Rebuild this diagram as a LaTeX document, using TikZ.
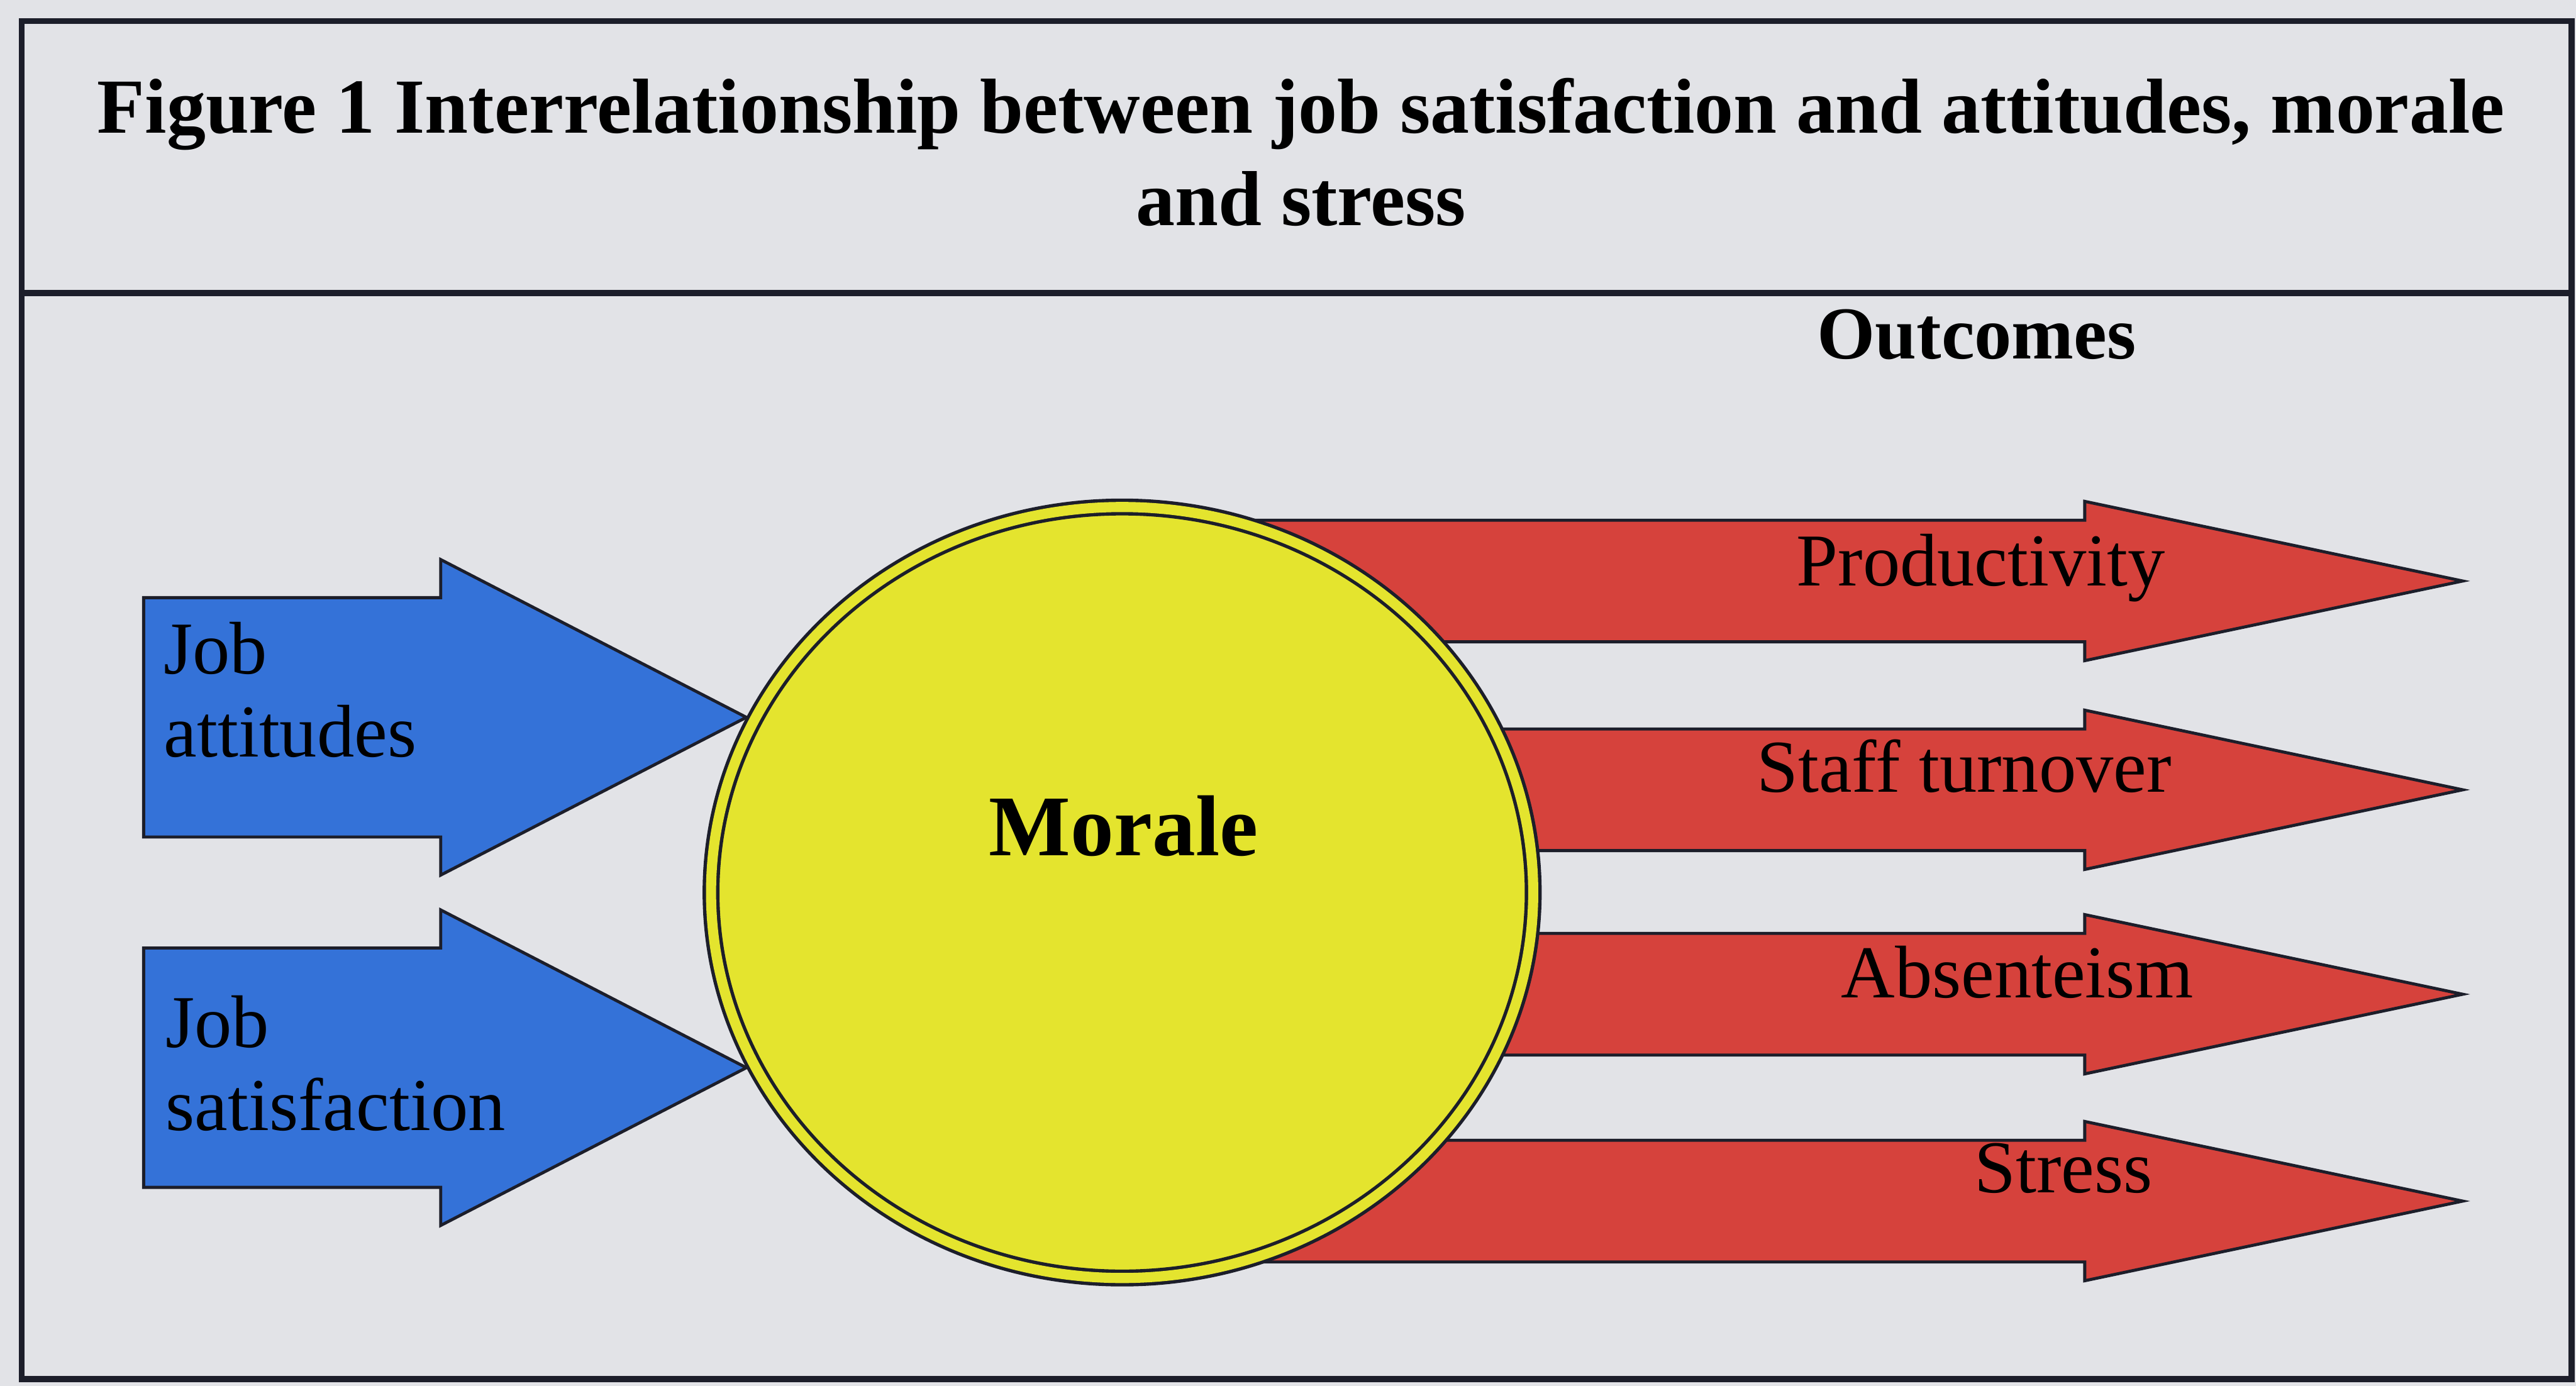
\documentclass[tikz,border=0pt]{standalone}
\usepackage{fontspec}
\setmainfont{Liberation Serif}
\usepackage{tikz}
\usetikzlibrary{shapes.arrows,shapes.geometric,positioning}

\definecolor{paper}{RGB}{226,227,231}
\definecolor{ink}{RGB}{28,30,42}
\definecolor{inblue}{RGB}{52,114,216}
\definecolor{outred}{RGB}{214,66,60}
\definecolor{moraleyellow}{RGB}{228,228,46}

\begin{document}
\begin{tikzpicture}[
  frame/.style={draw=ink, line width=3.5pt},
  inarrow/.style={single arrow, draw=ink, fill=inblue, line width=1.8pt,
    minimum width=6.48cm, single arrow head extend=0.79cm,
    single arrow tip angle=54.6, minimum height=12.5cm,
    inner xsep=0pt, inner ysep=2.45cm, outer sep=0pt, anchor=tip},
  outarrow/.style={single arrow, draw=ink, fill=outred, line width=1.8pt,
    minimum width=3.24cm, single arrow head extend=0.39cm,
    single arrow tip angle=23.8, minimum height=25.57cm,
    inner xsep=0pt, inner ysep=1.23cm, outer sep=0pt, anchor=tip},
  blob/.style={ellipse, draw=ink, line width=2pt, double=moraleyellow,
    double distance=0.21cm, fill=moraleyellow, inner sep=0pt, outer sep=0.175cm,
    minimum width=17.05cm, minimum height=15.99cm},
  heading/.style={font=\fontsize{46}{54.5}\selectfont\bfseries, align=center,
    inner sep=0pt, anchor=base},
  tag/.style={font=\fontsize{44}{48.9}\selectfont, inner sep=0pt, anchor=base},
  blocktag/.style={tag, align=left, anchor=base west},
]
\useasboundingbox (0,0) rectangle (53.42,28.74);
\fill[paper] (0,0) rectangle (53.42,28.74);

%--------------------------------- frame
\coordinate (tl) at (0.45,28.30);
\coordinate (br) at (53.33,0.14);
\coordinate (sl) at (0.45,22.66);
\coordinate (sr) at (53.33,22.66);
\draw[frame] (tl) rectangle (br);
\draw[frame] (sl) -- (sr);

% base of a two-line node sits on its last line
\node[heading] (title) at (26.98,24.07)
  {Figure 1 Interrelationship between job satisfaction and attitudes, morale\\and stress};
\node[heading, font=\fontsize{44}{50}\selectfont\bfseries] (outc) at (40.99,21.30) {Outcomes};

%--------------------------------- outcomes, drawn under the circle
\node[outarrow] (prod) at (51.07,16.69) {};
\node[outarrow] (turn) at (51.07,12.36) {};
\node[outarrow] (abs) at (51.07,8.12) {};
\node[outarrow] (strs) at (51.07,3.83) {};

%--------------------------------- morale
\node[blob] (morale) at (23.27,10.23) {};
\node[heading, font=\fontsize{51}{56}\selectfont\bfseries] (moraletxt) at (23.30,11.00) {Morale};

%--------------------------------- inputs
\node[inarrow] (att) at (morale.155.9) {};
\node[inarrow] (sat) at (morale.205.5) {};
\node[blocktag] (attl) at (3.39,13.05) {Job\\attitudes};
\node[blocktag] (satl) at (3.43,5.30) {Job\\satisfaction};

\node[tag] (prodl) at (41.08,16.59) {Productivity};
\node[tag] (turnl) at (40.73,12.32) {Staff turnover};
\node[tag] (absl) at (41.83,8.05) {Absenteism};
\node[tag] (strsl) at (42.79,4.00) {Stress};
\end{tikzpicture}
\end{document}
